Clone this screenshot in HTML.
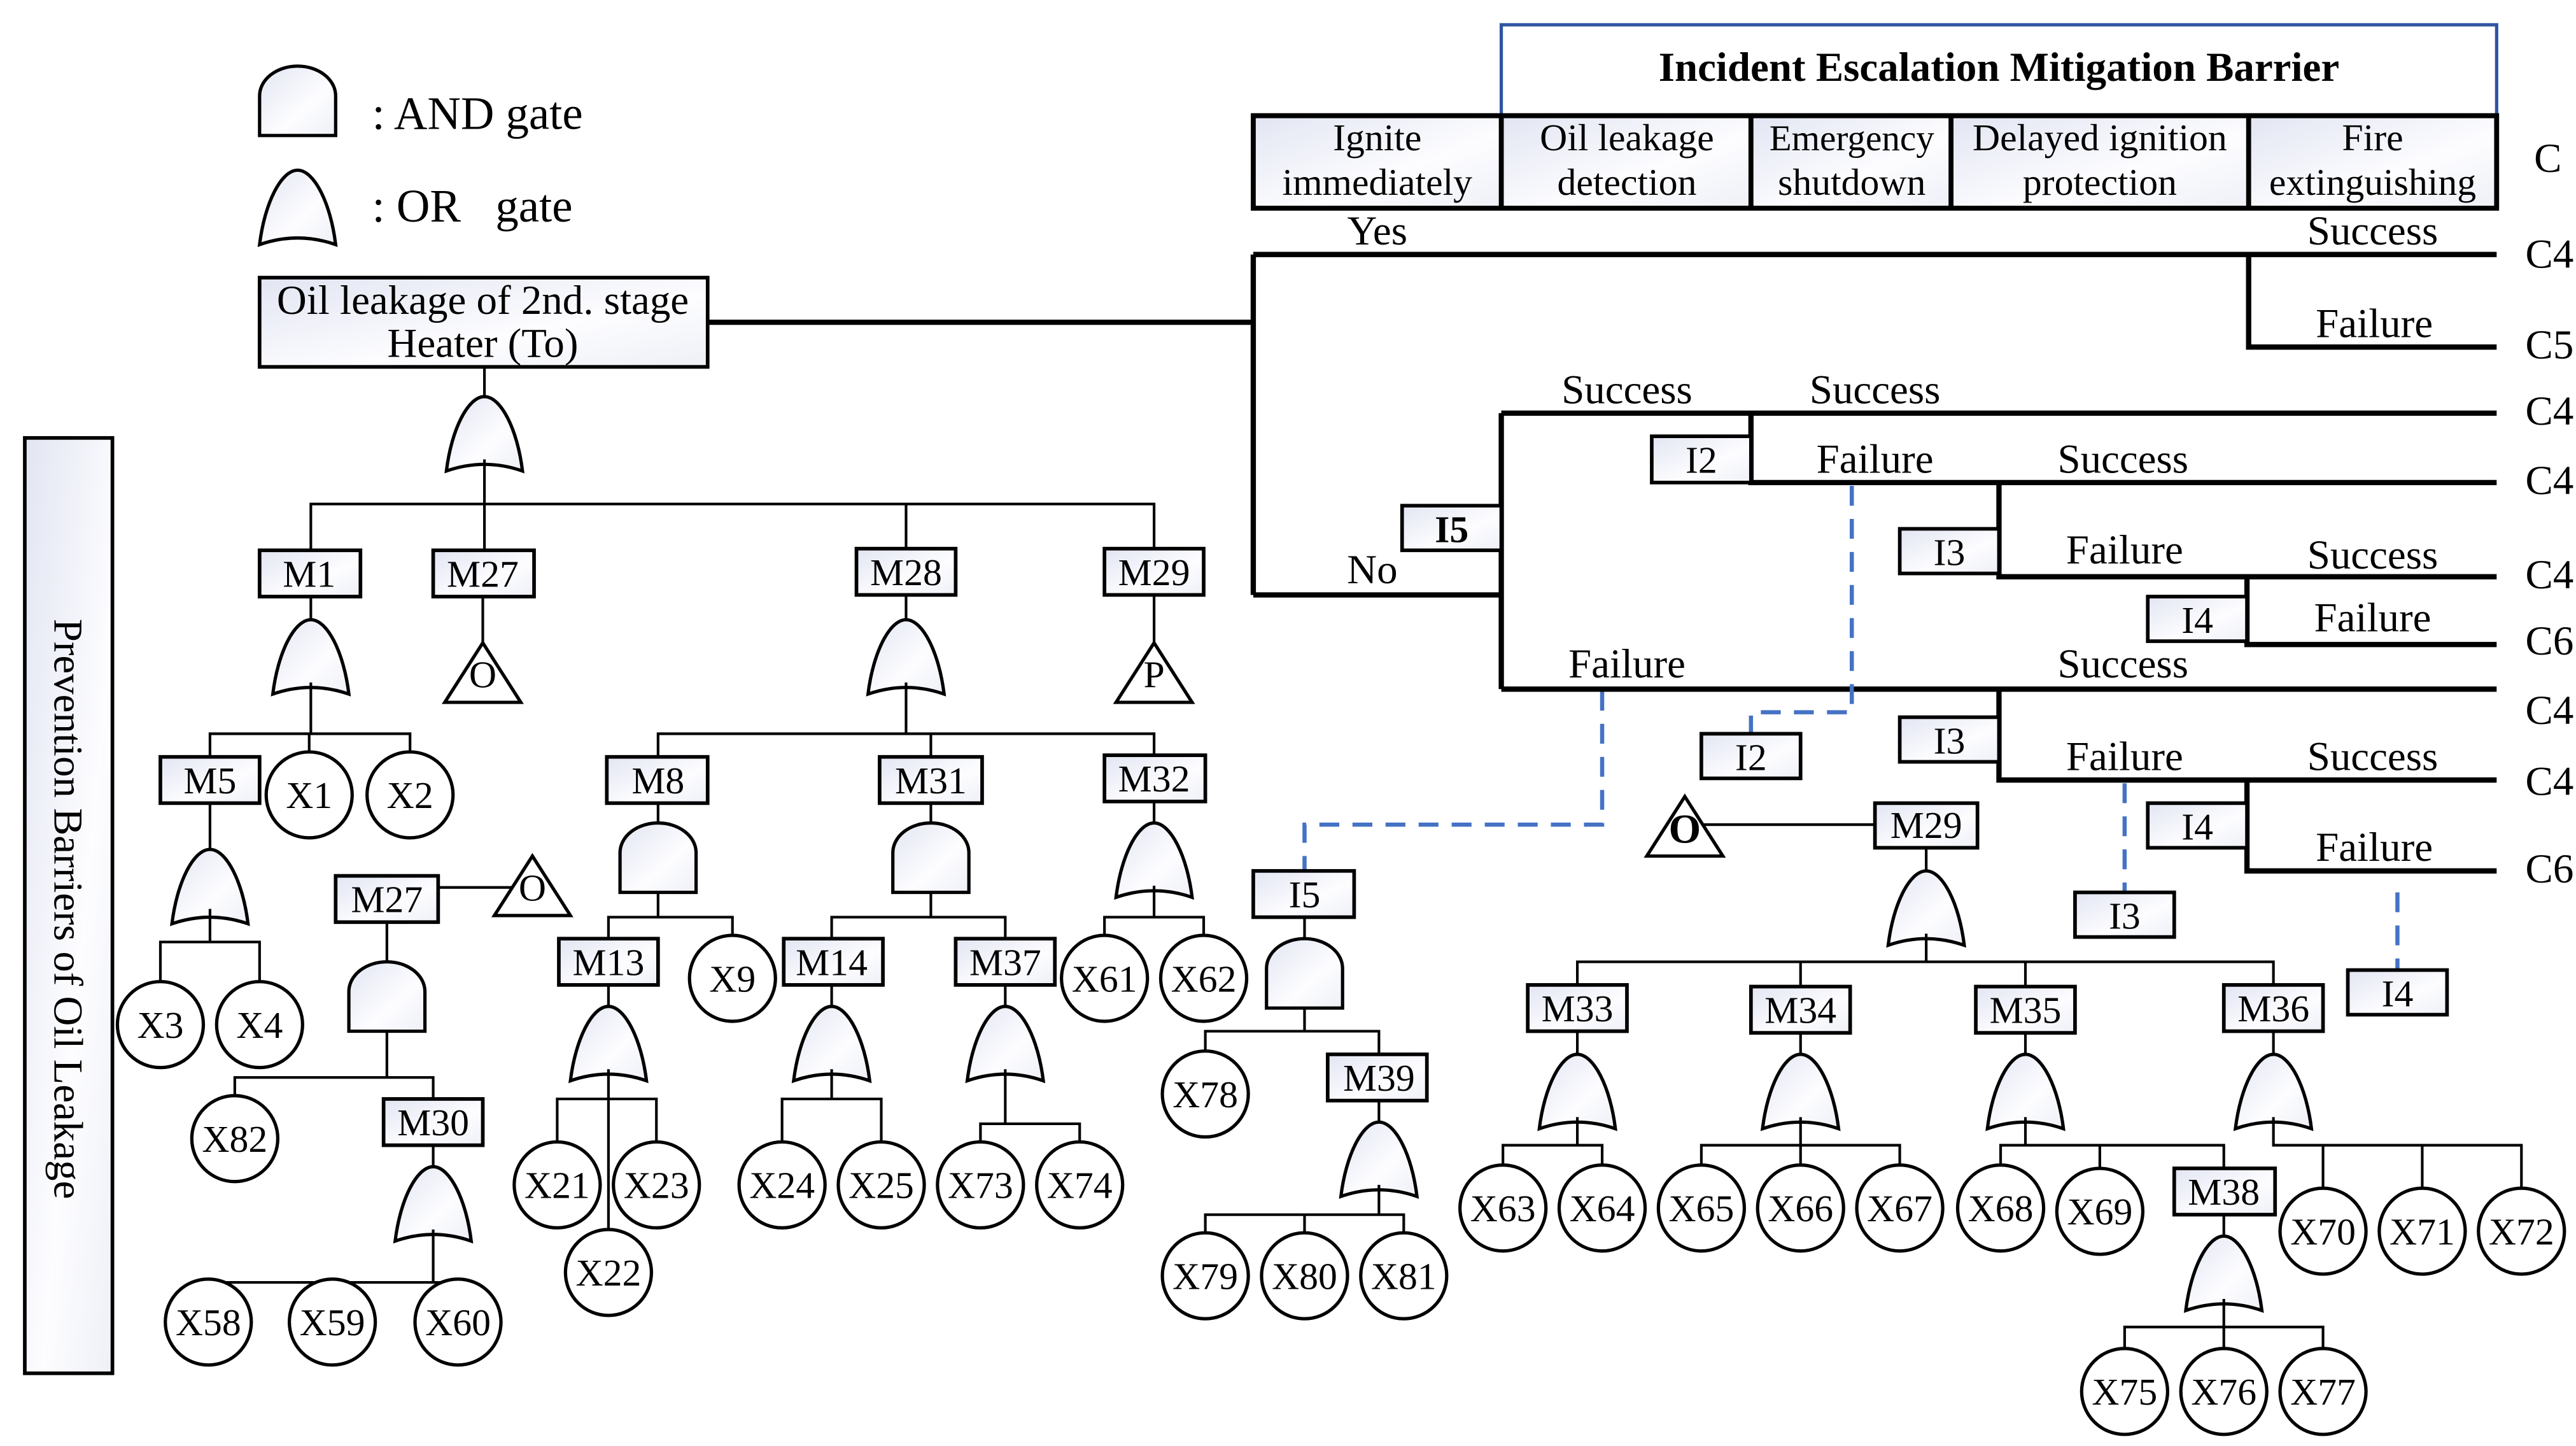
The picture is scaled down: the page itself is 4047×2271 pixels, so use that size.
<!DOCTYPE html>
<html><head><meta charset="utf-8"><style>
html,body{margin:0;padding:0;background:#fff}
svg{display:block}
text{font-family:"Liberation Serif",serif;fill:#000}
.t{font-size:25px;text-anchor:middle}
.b{font-size:23px;text-anchor:middle}
.h{font-size:23px;text-anchor:middle}
.l{fill:none;stroke:#000;stroke-width:1.6}
.k{fill:none;stroke:#000;stroke-width:3.2}
.bx{fill:url(#g);stroke:#000;stroke-width:2.2}
.c{fill:#fff;stroke:#000;stroke-width:2}
.d{fill:none;stroke:#4472c4;stroke-width:2.5;stroke-dasharray:12,8}
</style></head><body>
<svg width="4047" height="2271" viewBox="0 0 1558 875" preserveAspectRatio="none" xmlns="http://www.w3.org/2000/svg">
<defs>
<linearGradient id="g" x1="0" y1="0" x2="1" y2="1"><stop offset="0" stop-color="#e2e5f2"/><stop offset="0.6" stop-color="#fdfdff"/><stop offset="1" stop-color="#eef0f7"/></linearGradient>
<path id="or" d="M-23,45 C-20,20 -10,0 0,0 C10,0 20,20 23,45 Q0,37 -23,45 Z" fill="url(#g)" stroke="#000" stroke-width="2"/>
<path id="and" d="M-23,42 V18 A23,18 0 0 1 23,18 V42 Z" fill="url(#g)" stroke="#000" stroke-width="2"/>
<path id="tri" d="M0,0 L23,36 L-23,36 Z" fill="#fff" stroke="#000" stroke-width="2"/>
</defs>

<!-- legend -->
<use href="#and" x="180" y="40"/>
<text x="225" y="78" style="font-size:28px">: AND gate</text>
<use href="#or" x="180" y="103"/>
<text x="225" y="134" style="font-size:28px">: OR &#160; gate</text>

<!-- left panel -->
<rect x="15" y="265" width="53" height="566" class="bx"/>
<text transform="translate(33,550) rotate(90)" style="font-size:25px;text-anchor:middle">Prevention Barriers of Oil Leakage</text>

<!-- top event -->
<rect x="157" y="168" width="271" height="54" class="bx"/>
<text x="292" y="190" class="t">Oil leakage of 2nd. stage</text>
<text x="292" y="216" class="t">Heater (To)</text>
<line x1="428" y1="195" x2="758" y2="195" class="k"/>
<line x1="293" y1="222" x2="293" y2="240" class="l"/>
<use href="#or" x="293" y="240"/>
<line x1="293" y1="278" x2="293" y2="333" class="l"/>
<path d="M188,333 V305 H698 V332 M548,305 V332" class="l"/>

<!-- M1 -->
<rect x="157" y="333" width="61" height="28" class="bx"/><text x="187" y="355" class="b">M1</text>
<line x1="188" y1="361" x2="188" y2="375" class="l"/>
<use href="#or" x="188" y="375"/>
<path d="M188,413 V444 M127,458 V444 H248 V455 M187,444 V455" class="l"/>
<rect x="97" y="458" width="60" height="28" class="bx"/><text x="127" y="480" class="b">M5</text>
<circle cx="187" cy="481" r="26" class="c"/><text x="187" y="489" class="b">X1</text>
<circle cx="248" cy="481" r="26" class="c"/><text x="248" y="489" class="b">X2</text>
<line x1="127" y1="486" x2="127" y2="514" class="l"/>
<use href="#or" x="127" y="514"/>
<path d="M127,550 V570 M97,594 V570 H157 V594" class="l"/>
<circle cx="97" cy="620" r="26" class="c"/><text x="97" y="628" class="b">X3</text>
<circle cx="157" cy="620" r="26" class="c"/><text x="157" y="628" class="b">X4</text>

<!-- M27 -->
<rect x="262" y="333" width="61" height="28" class="bx"/><text x="292" y="355" class="b">M27</text>
<line x1="292" y1="361" x2="292" y2="389" class="l"/>
<use href="#tri" x="292" y="389"/><text x="292" y="416" class="b">O</text>

<!-- M27 second -->
<rect x="203" y="530" width="62" height="28" class="bx"/><text x="234" y="552" class="b">M27</text>
<line x1="265" y1="537" x2="310" y2="537" class="l"/>
<use href="#tri" x="322" y="518"/><text x="322" y="545" class="b">O</text>
<line x1="234" y1="558" x2="234" y2="582" class="l"/>
<use href="#and" x="234" y="582"/>
<path d="M234,624 V652 M142,663 V652 H262 V665" class="l"/>
<circle cx="142" cy="689" r="26" class="c"/><text x="142" y="697" class="b">X82</text>
<rect x="232" y="665" width="60" height="28" class="bx"/><text x="262" y="687" class="b">M30</text>
<line x1="262" y1="693" x2="262" y2="706" class="l"/>
<use href="#or" x="262" y="706"/>
<path d="M262,744 V776 M126,774 V776 H277 V774 M201,776 V774" class="l"/>
<circle cx="126" cy="800" r="26" class="c"/><text x="126" y="808" class="b">X58</text>
<circle cx="201" cy="800" r="26" class="c"/><text x="201" y="808" class="b">X59</text>
<circle cx="277" cy="800" r="26" class="c"/><text x="277" y="808" class="b">X60</text>

<!-- M28 -->
<rect x="518" y="332" width="60" height="28" class="bx"/><text x="548" y="354" class="b">M28</text>
<line x1="548" y1="360" x2="548" y2="375" class="l"/>
<use href="#or" x="548" y="375"/>
<path d="M548,413 V444 M398,458 V444 H698 V458 M563,444 V458" class="l"/>
<rect x="367" y="458" width="61" height="28" class="bx"/><text x="398" y="480" class="b">M8</text>
<rect x="532" y="458" width="62" height="28" class="bx"/><text x="563" y="480" class="b">M31</text>
<rect x="668" y="457" width="61" height="28" class="bx"/><text x="698" y="479" class="b">M32</text>
<!-- M8 -->
<line x1="398" y1="486" x2="398" y2="498" class="l"/>
<use href="#and" x="398" y="498"/>
<path d="M398,540 V555 M368,568 V555 H443 V566" class="l"/>
<rect x="338" y="568" width="60" height="28" class="bx"/><text x="368" y="590" class="b">M13</text>
<circle cx="443" cy="592" r="26" class="c"/><text x="443" y="600" class="b">X9</text>
<line x1="368" y1="596" x2="368" y2="609" class="l"/>
<use href="#or" x="368" y="609"/>
<path d="M368,647 V744 M337,691 V665 H397 V691" class="l"/>
<circle cx="337" cy="717" r="26" class="c"/><text x="337" y="725" class="b">X21</text>
<circle cx="397" cy="717" r="26" class="c"/><text x="397" y="725" class="b">X23</text>
<circle cx="368" cy="770" r="26" class="c"/><text x="368" y="778" class="b">X22</text>
<!-- M31 -->
<line x1="563" y1="486" x2="563" y2="498" class="l"/>
<use href="#and" x="563" y="498"/>
<path d="M563,540 V555 M503,568 V555 H608 V568" class="l"/>
<rect x="474" y="568" width="60" height="28" class="bx"/><text x="503" y="590" class="b">M14</text>
<rect x="578" y="568" width="60" height="28" class="bx"/><text x="608" y="590" class="b">M37</text>
<line x1="503" y1="596" x2="503" y2="609" class="l"/>
<use href="#or" x="503" y="609"/>
<path d="M503,647 V665 M473,691 V665 H533 V691" class="l"/>
<circle cx="473" cy="717" r="26" class="c"/><text x="473" y="725" class="b">X24</text>
<circle cx="533" cy="717" r="26" class="c"/><text x="533" y="725" class="b">X25</text>
<line x1="608" y1="596" x2="608" y2="609" class="l"/>
<use href="#or" x="608" y="609"/>
<path d="M608,647 V680 M593,691 V680 H653 V691" class="l"/>
<circle cx="593" cy="717" r="26" class="c"/><text x="593" y="725" class="b">X73</text>
<circle cx="653" cy="717" r="26" class="c"/><text x="653" y="725" class="b">X74</text>
<!-- M32 -->
<line x1="698" y1="485" x2="698" y2="498" class="l"/>
<use href="#or" x="698" y="498"/>
<path d="M698,536 V555 M668,566 V555 H728 V566" class="l"/>
<circle cx="668" cy="592" r="26" class="c"/><text x="668" y="600" class="b">X61</text>
<circle cx="728" cy="592" r="26" class="c"/><text x="728" y="600" class="b">X62</text>

<!-- M29 -->
<rect x="668" y="332" width="60" height="28" class="bx"/><text x="698" y="354" class="b">M29</text>
<line x1="698" y1="360" x2="698" y2="389" class="l"/>
<use href="#tri" x="698" y="389"/><text x="698" y="416" class="b">P</text>

<!-- I5 lower -->
<path d="M969,418 V499 H789 V527" class="d"/>
<rect x="758" y="527" width="61" height="28" class="bx"/><text x="789" y="549" class="b">I5</text>
<line x1="789" y1="555" x2="789" y2="568" class="l"/>
<use href="#and" x="789" y="568"/>
<path d="M789,610 V624 M729,636 V624 H834 V638" class="l"/>
<circle cx="729" cy="662" r="26" class="c"/><text x="729" y="670" class="b">X78</text>
<rect x="803" y="638" width="60" height="28" class="bx"/><text x="834" y="660" class="b">M39</text>
<line x1="834" y1="666" x2="834" y2="679" class="l"/>
<use href="#or" x="834" y="679"/>
<path d="M834,717 V735 M729,746 V735 H849 V746 M789,735 V746" class="l"/>
<circle cx="729" cy="772" r="26" class="c"/><text x="729" y="780" class="b">X79</text>
<circle cx="789" cy="772" r="26" class="c"/><text x="789" y="780" class="b">X80</text>
<circle cx="849" cy="772" r="26" class="c"/><text x="849" y="780" class="b">X81</text>

<!-- O - M29 right -->
<use href="#tri" x="1019" y="482"/><text x="1019" y="510" class="b" style="font-weight:bold;font-size:25px">O</text>
<line x1="1030" y1="499" x2="1134" y2="499" class="l"/>
<rect x="1134" y="486" width="62" height="27" class="bx"/><text x="1165" y="507" class="b">M29</text>
<line x1="1165" y1="513" x2="1165" y2="527" class="l"/>
<use href="#or" x="1165" y="527"/>
<path d="M1165,565 V582 M954,596 V582 H1375 V596 M1089,582 V596 M1225,582 V596" class="l"/>
<rect x="924" y="596" width="60" height="28" class="bx"/><text x="954" y="618" class="b">M33</text>
<rect x="1059" y="597" width="60" height="28" class="bx"/><text x="1089" y="619" class="b">M34</text>
<rect x="1195" y="597" width="60" height="28" class="bx"/><text x="1225" y="619" class="b">M35</text>
<rect x="1345" y="596" width="60" height="28" class="bx"/><text x="1375" y="618" class="b">M36</text>
<!-- M33 -->
<line x1="954" y1="624" x2="954" y2="638" class="l"/>
<use href="#or" x="954" y="638"/>
<path d="M954,676 V693 M909,705 V693 H969 V705" class="l"/>
<circle cx="909" cy="731" r="26" class="c"/><text x="909" y="739" class="b">X63</text>
<circle cx="969" cy="731" r="26" class="c"/><text x="969" y="739" class="b">X64</text>
<!-- M34 -->
<line x1="1089" y1="625" x2="1089" y2="638" class="l"/>
<use href="#or" x="1089" y="638"/>
<path d="M1089,676 V705 M1029,705 V693 H1149 V705" class="l"/>
<circle cx="1029" cy="731" r="26" class="c"/><text x="1029" y="739" class="b">X65</text>
<circle cx="1089" cy="731" r="26" class="c"/><text x="1089" y="739" class="b">X66</text>
<circle cx="1149" cy="731" r="26" class="c"/><text x="1149" y="739" class="b">X67</text>
<!-- M35 -->
<line x1="1225" y1="625" x2="1225" y2="638" class="l"/>
<use href="#or" x="1225" y="638"/>
<path d="M1225,676 V693 M1210,705 V693 H1345 V707 M1270,693 V707" class="l"/>
<circle cx="1210" cy="731" r="26" class="c"/><text x="1210" y="739" class="b">X68</text>
<circle cx="1270" cy="733" r="26" class="c"/><text x="1270" y="741" class="b">X69</text>
<rect x="1315" y="707" width="61" height="28" class="bx"/><text x="1345" y="729" class="b">M38</text>
<line x1="1345" y1="735" x2="1345" y2="748" class="l"/>
<use href="#or" x="1345" y="748"/>
<path d="M1345,786 V816 M1285,816 V803 H1405 V816" class="l"/>
<circle cx="1285" cy="842" r="26" class="c"/><text x="1285" y="850" class="b">X75</text>
<circle cx="1345" cy="842" r="26" class="c"/><text x="1345" y="850" class="b">X76</text>
<circle cx="1405" cy="842" r="26" class="c"/><text x="1405" y="850" class="b">X77</text>
<!-- M36 -->
<line x1="1375" y1="624" x2="1375" y2="638" class="l"/>
<use href="#or" x="1375" y="638"/>
<path d="M1375,676 V693 H1525 V719 M1405,693 V719 M1465,693 V719" class="l"/>
<circle cx="1405" cy="745" r="26" class="c"/><text x="1405" y="753" class="b">X70</text>
<circle cx="1465" cy="745" r="26" class="c"/><text x="1465" y="753" class="b">X71</text>
<circle cx="1525" cy="745" r="26" class="c"/><text x="1525" y="753" class="b">X72</text>

<!-- Event tree header -->
<rect x="908" y="15" width="602" height="55" fill="#fff" stroke="#2f55a0" stroke-width="2"/>
<text x="1209" y="49" class="t" style="font-weight:bold;font-size:25px">Incident Escalation Mitigation Barrier</text>
<g>
<rect x="758" y="70" width="150" height="56" fill="url(#g)"/>
<rect x="908" y="70" width="151" height="56" fill="url(#g)"/>
<rect x="1059" y="70" width="121" height="56" fill="url(#g)"/>
<rect x="1180" y="70" width="180" height="56" fill="url(#g)"/>
<rect x="1360" y="70" width="150" height="56" fill="url(#g)"/>
<path d="M758,70 H1510 V126 H758 Z M908,70 V126 M1059,70 V126 M1180,70 V126 M1360,70 V126" fill="none" stroke="#000" stroke-width="3"/>
</g>
<text x="833" y="91" class="h">Ignite</text><text x="833" y="118" class="h">immediately</text>
<text x="984" y="91" class="h">Oil leakage</text><text x="984" y="118" class="h">detection</text>
<text x="1120" y="91" class="h" style="font-size:22px">Emergency</text><text x="1120" y="118" class="h">shutdown</text>
<text x="1270" y="91" class="h">Delayed ignition</text><text x="1270" y="118" class="h">protection</text>
<text x="1435" y="91" class="h">Fire</text><text x="1435" y="118" class="h">extinguishing</text>
<text x="1541" y="104" class="t">C</text>

<!-- Event tree branches -->
<path d="M758,154 V360 M758,154 H1510 M1360,154 V210 H1510 M758,360 H908 M908,250 V417 M908,250 H1510 M1059,250 V292 H1510 M1209,292 V349 H1510 M1359,349 V390 H1510 M908,417 H1510 M1209,417 V472 H1510 M1359,472 V527 H1510" class="k"/>
<rect x="999" y="264" width="60" height="28" class="bx"/><text x="1029" y="286" class="b">I2</text>
<rect x="848" y="306" width="60" height="27" class="bx"/><text x="878" y="328" class="b" style="font-weight:bold">I5</text>
<rect x="1149" y="320" width="60" height="27" class="bx"/><text x="1179" y="342" class="b">I3</text>
<rect x="1299" y="361" width="60" height="27" class="bx"/><text x="1329" y="383" class="b">I4</text>
<rect x="1149" y="434" width="60" height="27" class="bx"/><text x="1179" y="456" class="b">I3</text>
<rect x="1299" y="486" width="60" height="27" class="bx"/><text x="1329" y="508" class="b">I4</text>

<text x="833" y="148" class="t">Yes</text>
<text x="1435" y="148" class="t">Success</text>
<text x="1436" y="204" class="t">Failure</text>
<text x="830" y="353" class="t">No</text>
<text x="984" y="244" class="t">Success</text>
<text x="1134" y="244" class="t">Success</text>
<text x="1134" y="286" class="t">Failure</text>
<text x="1284" y="286" class="t">Success</text>
<text x="1285" y="341" class="t">Failure</text>
<text x="1435" y="344" class="t">Success</text>
<text x="1435" y="382" class="t">Failure</text>
<text x="984" y="410" class="t">Failure</text>
<text x="1284" y="410" class="t">Success</text>
<text x="1285" y="466" class="t">Failure</text>
<text x="1435" y="466" class="t">Success</text>
<text x="1436" y="521" class="t">Failure</text>

<text x="1542" y="162" class="t">C4</text>
<text x="1542" y="217" class="t">C5</text>
<text x="1542" y="257" class="t">C4</text>
<text x="1542" y="299" class="t">C4</text>
<text x="1542" y="356" class="t">C4</text>
<text x="1542" y="396" class="t">C6</text>
<text x="1542" y="438" class="t">C4</text>
<text x="1542" y="481" class="t">C4</text>
<text x="1542" y="534" class="t">C6</text>

<!-- dashed references -->
<path d="M1120,294 V431 H1059 V444" class="d"/>
<rect x="1029" y="444" width="60" height="27" class="bx"/><text x="1059" y="466" class="b">I2</text>
<path d="M1285,474 V540" class="d"/>
<rect x="1255" y="540" width="60" height="27" class="bx"/><text x="1285" y="562" class="b">I3</text>
<path d="M1450,540 V587" class="d"/>
<rect x="1420" y="587" width="60" height="27" class="bx"/><text x="1450" y="609" class="b">I4</text>
</svg>
</body></html>
